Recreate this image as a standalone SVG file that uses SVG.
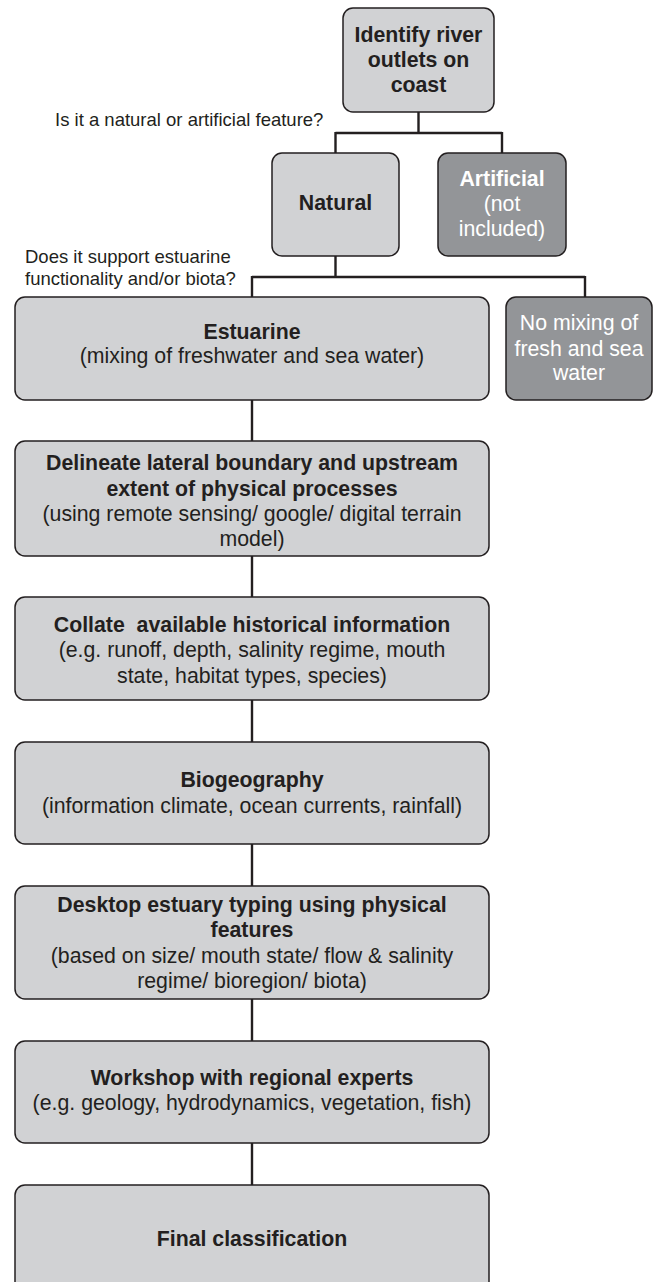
<svg xmlns="http://www.w3.org/2000/svg" width="657" height="1282" viewBox="0 0 657 1282">
<style>
.box{fill:#d1d2d4;stroke:#231f20;stroke-width:1.5}
.dark{fill:#939598;stroke:#231f20;stroke-width:1.5}
.t{font-family:"Liberation Sans",Arial,sans-serif;font-size:21.3px;fill:#231f20;text-anchor:middle}
.b{font-weight:bold}
.w{fill:#ffffff}
.q{font-family:"Liberation Sans",Arial,sans-serif;font-size:18.5px;fill:#231f20}
.c{fill:none;stroke:#231f20;stroke-width:2.4}
</style>
<rect width="657" height="1282" fill="#ffffff"/>
<g id="connectors">
<path class="c" d="M418.5,112 V133 M335.5,133 H502 M335.5,132 V153 M502,132 V153"/>
<path class="c" d="M335.5,256 V277 M252,277 H585 M252,276 V297 M585,276 V297"/>
<path class="c" d="M252,400 V441 M252,556 V597 M252,700 V742 M252,844 V886 M252,999 V1041 M252,1143 V1185"/>
</g>
<g id="labels">
<text class="q" x="55" y="126">Is it a natural or artificial feature?</text>
<text class="q" x="25" y="263">Does it support estuarine</text>
<text class="q" x="25" y="285">functionality and/or biota?</text>
</g>
<g id="identify">
<rect class="box" x="343" y="8" width="151" height="104" rx="10"/>
<text class="t b" x="418.5" y="42">Identify river</text>
<text class="t b" x="418.5" y="67">outlets on</text>
<text class="t b" x="418.5" y="92">coast</text>
</g>
<g id="natural">
<rect class="box" x="272" y="153" width="127" height="103" rx="10"/>
<text class="t b" x="335.5" y="210">Natural</text>
</g>
<g id="artificial">
<rect class="dark" x="438" y="153" width="128" height="103" rx="10"/>
<text class="t b w" x="502" y="186">Artificial</text>
<text class="t w" x="502" y="211">(not</text>
<text class="t w" x="502" y="236">included)</text>
</g>
<g id="estuarine">
<rect class="box" x="15" y="297" width="474" height="103" rx="10"/>
<text class="t b" x="252" y="339">Estuarine</text>
<text class="t" x="252" y="363">(mixing of freshwater and sea water)</text>
</g>
<g id="nomixing">
<rect class="dark" x="506" y="297" width="146" height="103" rx="10"/>
<text class="t w" x="579" y="330">No mixing of</text>
<text class="t w" x="579" y="356">fresh and sea</text>
<text class="t w" x="579" y="380">water</text>
</g>
<g id="delineate">
<rect class="box" x="15" y="441" width="474" height="115" rx="10"/>
<text class="t b" x="252" y="470">Delineate lateral boundary and upstream</text>
<text class="t b" x="252" y="496">extent of physical processes</text>
<text class="t" x="252" y="521">(using remote sensing/ google/ digital terrain</text>
<text class="t" x="252" y="546">model)</text>
</g>
<g id="collate">
<rect class="box" x="15" y="597" width="474" height="103" rx="10"/>
<text class="t b" x="252" y="632" xml:space="preserve">Collate  available historical information</text>
<text class="t" x="252" y="657">(e.g. runoff, depth, salinity regime, mouth</text>
<text class="t" x="252" y="683">state, habitat types, species)</text>
</g>
<g id="biogeography">
<rect class="box" x="15" y="742" width="474" height="102" rx="10"/>
<text class="t b" x="252" y="787">Biogeography</text>
<text class="t" x="252" y="813">(information climate, ocean currents, rainfall)</text>
</g>
<g id="desktop">
<rect class="box" x="15" y="886" width="474" height="113" rx="10"/>
<text class="t b" x="252" y="912">Desktop estuary typing using physical</text>
<text class="t b" x="252" y="937">features</text>
<text class="t" x="252" y="963">(based on size/ mouth state/ flow &amp; salinity</text>
<text class="t" x="252" y="988">regime/ bioregion/ biota)</text>
</g>
<g id="workshop">
<rect class="box" x="15" y="1041" width="474" height="102" rx="10"/>
<text class="t b" x="252" y="1085">Workshop with regional experts</text>
<text class="t" x="252" y="1110">(e.g. geology, hydrodynamics, vegetation, fish)</text>
</g>
<g id="final">
<rect class="box" x="15" y="1185" width="474" height="115" rx="10"/>
<text class="t b" x="252" y="1246">Final classification</text>
</g>
</svg>
